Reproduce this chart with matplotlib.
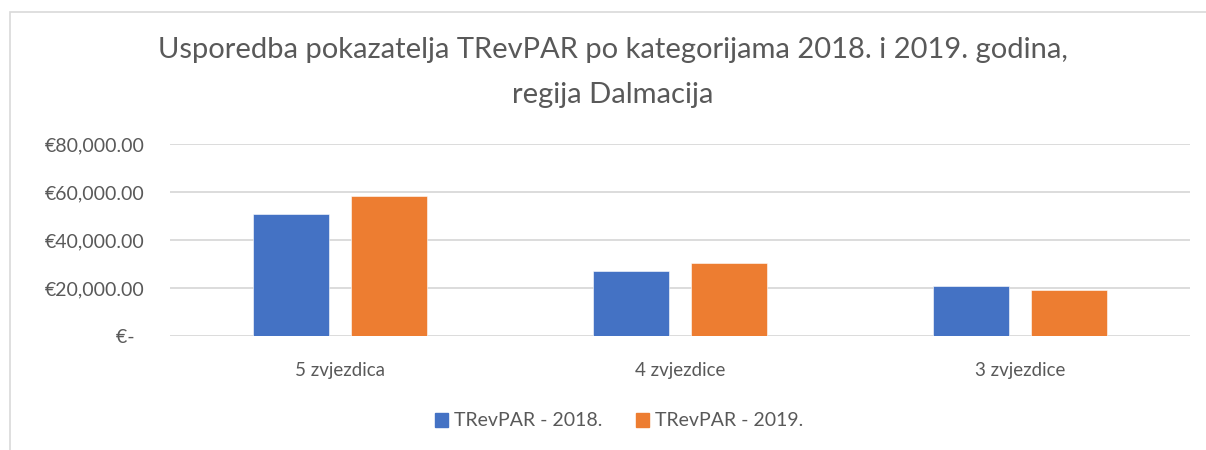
import numpy as np
import matplotlib
matplotlib.use('Agg')
from matplotlib import pyplot as plt
from matplotlib.patches import Rectangle, Patch
from matplotlib.ticker import FuncFormatter

categories = ['5 zvjezdica', '4 zvjezdice', '3 zvjezdice']
trevpar_2018 = [50750, 26950, 20900]
trevpar_2019 = [58230, 30300, 19100]
series_names = ['TRevPAR - 2018.', 'TRevPAR - 2019.']
y_ticks = [0, 20000, 40000, 60000, 80000]

blue = '#4472C4'
orange = '#ED7D31'
grey_txt = '#595959'
grid_col = '#D9D9D9'

plt.rcParams['font.family'] = ['Lato', 'DejaVu Sans']

fig = plt.figure(figsize=(12.06, 4.5), dpi=100)
ax = fig.add_axes([170/1206, 1-336/450, 1020/1206, 192/450])

x = np.arange(len(categories))
w = 0.224
off = 0.143
ax.bar(x - off, trevpar_2018, w, color=blue, edgecolor='white', linewidth=0.4, zorder=3)
ax.bar(x + off, trevpar_2019, w, color=orange, edgecolor='white', linewidth=0.4, zorder=3)

ax.set_xlim(-0.5, 2.5)
ax.set_ylim(0, 80000)
ax.set_yticks(y_ticks)

def euro(v, pos):
    if v == 0:
        return '€-  '
    return '€{:,.2f}'.format(v)

ax.yaxis.set_major_formatter(FuncFormatter(euro))
ax.set_xticks(x)
ax.set_xticklabels(categories)
ax.tick_params(axis='both', length=0, labelcolor=grey_txt)
ax.tick_params(axis='y', pad=18, labelsize=14)
ax.tick_params(axis='x', pad=19, labelsize=13.5)
ax.grid(axis='y', color=grid_col, linewidth=1.3, zorder=0)
for s in ax.spines.values():
    s.set_visible(False)

fig.text(613/1206, 1-50/450, 'Usporedba pokazatelja TRevPAR po kategorijama 2018. i 2019. godina,',
         ha='center', va='center', fontsize=21, color=grey_txt)
fig.text(613/1206, 1-95/450, 'regija Dalmacija',
         ha='center', va='center', fontsize=21, color=grey_txt)

handles = [Patch(color=blue), Patch(color=orange)]
fig.legend(handles, series_names, loc='center', bbox_to_anchor=(619/1206, 1-421/450),
           ncol=2, frameon=False, handlelength=0.7, handleheight=0.7, handletextpad=0.3,
           columnspacing=1.7, fontsize=14, labelcolor=grey_txt)

fig.patches.append(Rectangle((10/1206, -0.1), 1.2, 1-12/450+0.1, transform=fig.transFigure,
                             fill=False, edgecolor=grid_col, linewidth=1.2))

fig.savefig('out.png', dpi=100)
